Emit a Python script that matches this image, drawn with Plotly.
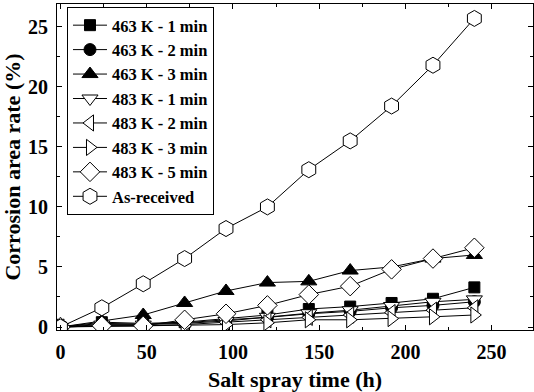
import plotly.graph_objects as go

time_h = [0, 24, 48, 72, 96, 120, 144, 168, 192, 216, 240]

s463_1 = [0, 0.4, 0.3, 0.4, 0.7, 1.0, 1.5, 1.7, 2.0, 2.35, 3.3]
s463_2 = [0, 0.3, 0.25, 0.35, 0.6, 0.8, 1.1, 1.3, 1.6, 1.8, 2.1]
s463_3 = [0, 0.5, 1.0, 2.0, 3.0, 3.7, 3.8, 4.7, 5.0, 5.7, 6.0]
s483_1 = [0, 0.2, 0.2, 0.3, 0.5, 0.85, 1.15, 1.4, 1.75, 2.1, 2.3]
s483_2 = [0, 0.1, 0.1, 0.2, 0.4, 0.6, 0.8, 1.0, 1.2, 1.4, 1.6]
s483_3 = [0, 0.05, 0.05, 0.1, 0.2, 0.35, 0.6, 0.6, 0.7, 0.85, 1.0]
s483_5 = [0, 0.1, 0.1, 0.6, 1.1, 1.8, 2.7, 3.4, 4.8, 5.7, 6.6]
as_received = [0, 1.6, 3.6, 5.7, 8.2, 10.0, 13.1, 15.5, 18.4, 21.8, 25.7]

series_names = ["463 K - 1 min", "463 K - 2 min", "463 K - 3 min", "483 K - 1 min",
                "483 K - 2 min", "483 K - 3 min", "483 K - 5 min", "As-received"]
series_values = [s463_1, s463_2, s463_3, s483_1, s483_2, s483_3, s483_5, as_received]

x_tick_vals = [0, 50, 100, 150, 200, 250]
x_tick_text = ["0", "50", "100", "150", "200", "250"]
y_tick_vals = [0, 5, 10, 15, 20, 25]
y_tick_text = ["0", "5", "10", "15", "20", "25"]

symbols = ["square", "circle", "triangle-up", "triangle-down",
           "triangle-left", "triangle-right", "diamond", "hexagon"]
fills = ["black", "black", "black", "white", "white", "white", "white", "white"]
sizes = [11, 12, 14, 14, 14, 14, 15, 16]

FONT = "Liberation Serif"

fig = go.Figure()
for name, vals, sym, fc, sz in zip(series_names, series_values, symbols, fills, sizes):
    fig.add_trace(go.Scatter(
        x=time_h, y=vals, name="<b>" + name + "</b>", mode="lines+markers",
        line=dict(color="black", width=1),
        marker=dict(symbol=sym, size=sz, color=fc,
                    line=dict(color="black", width=1)),
        cliponaxis=True,
    ))

axis_common = dict(
    showline=True, linecolor="black", linewidth=1, mirror="allticks",
    ticks="inside", ticklen=5, tickwidth=1, tickcolor="black",
    showgrid=False, zeroline=False,
    tickfont=dict(family=FONT, size=20, color="black"),
)

fig.update_xaxes(
    range=[-2, 274], tickmode="array", tickvals=x_tick_vals,
    ticktext=["<b>" + t + "</b>" for t in x_tick_text],
    ticklabelstandoff=4,
    minor=dict(dtick=25, tick0=0, ticks="inside", ticklen=3, tickcolor="black"),
    title=dict(text="<b>Salt spray time (h)</b>", standoff=10,
               font=dict(family=FONT, size=22, color="black")),
    **axis_common,
)
fig.update_yaxes(
    range=[-0.25, 26.9], tickmode="array", tickvals=y_tick_vals,
    ticktext=["<b>" + t + "</b>" for t in y_tick_text],
    ticklabelstandoff=4,
    minor=dict(dtick=2.5, tick0=0, ticks="inside", ticklen=3, tickcolor="black"),
    title=dict(text="<b>Corrosion area rate (%)</b>", standoff=6,
               font=dict(family=FONT, size=22, color="black")),
    **axis_common,
)

fig.update_layout(
    template="none",
    font=dict(family=FONT, color="black"),
    width=534, height=392,
    margin=dict(l=57, r=1, t=4, b=62, autoexpand=False),
    paper_bgcolor="white", plot_bgcolor="white",
    showlegend=True,
    legend=dict(
        x=0.021, y=0.991, xanchor="left", yanchor="top",
        bgcolor="white", bordercolor="black", borderwidth=1,
        font=dict(family=FONT, size=16.5, color="black"),
        tracegroupgap=0, itemwidth=34,
    ),
)

fig.write_html("out.html", post_script="document.body.style.margin='0px';",
               config={"displayModeBar": False})
